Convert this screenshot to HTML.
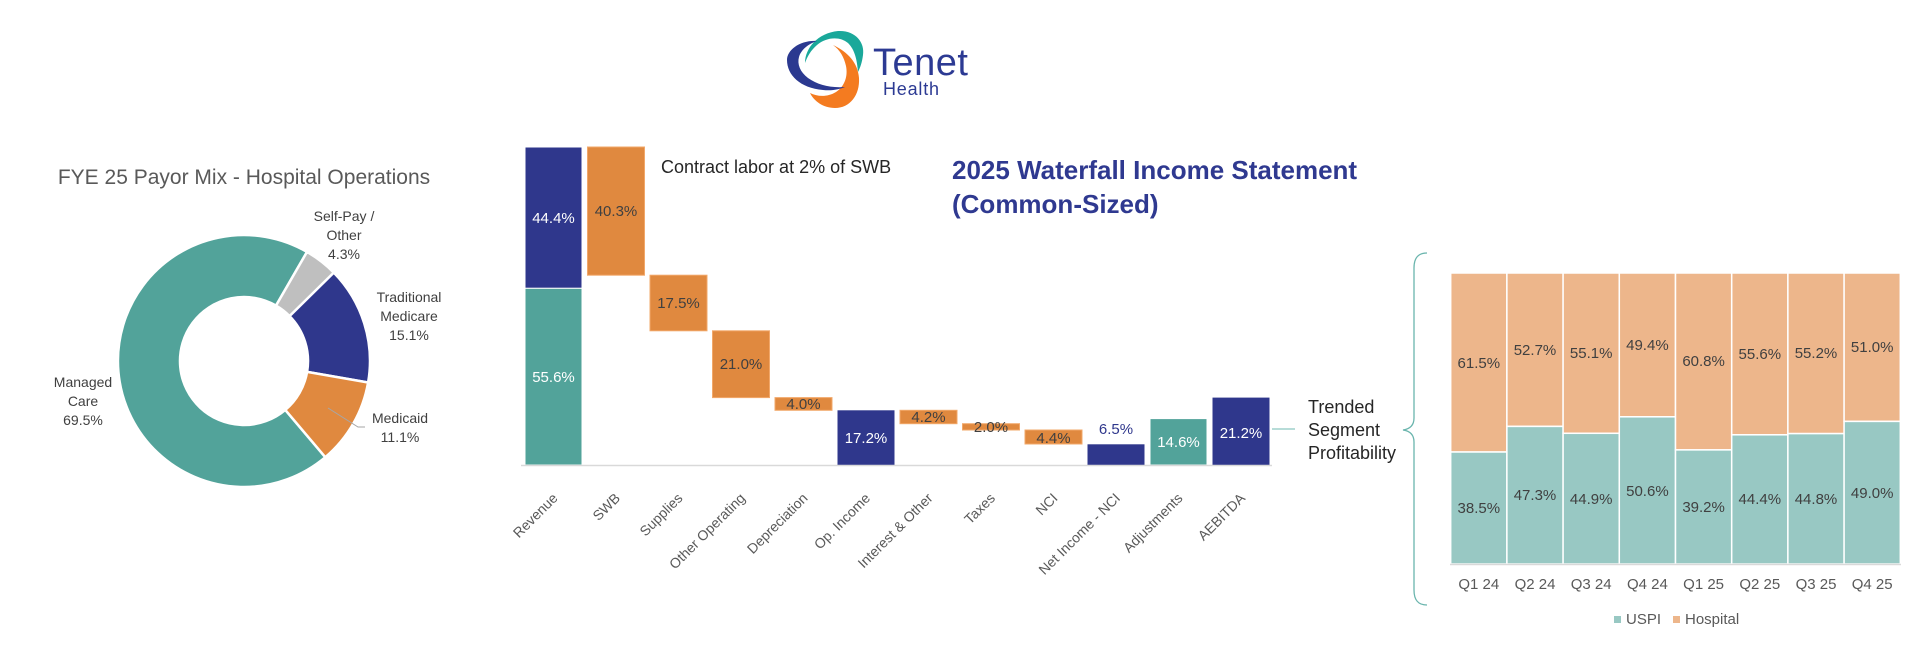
<!DOCTYPE html>
<html>
<head>
<meta charset="utf-8">
<style>
html,body{margin:0;padding:0;background:#fff;}
body{width:1920px;height:665px;overflow:hidden;}
svg{display:block;font-family:"Liberation Sans",Arial,sans-serif;}
</style>
</head>
<body>
<svg width="1920" height="665" viewBox="0 0 1920 665" xmlns="http://www.w3.org/2000/svg">
<rect width="1920" height="665" fill="#fff"/>

<!-- Logo -->
<path d="M833,45 C848,52 858,63 859,78 C860,95 850,108 835,108 C823,108 814,101 810,93 C818,97 828,97 836,92 C845,86 848,76 846,66 C844,57 840,50 833,45 Z" fill="#f47b20"/>
<path d="M805,63 C805,48 818,33 838,31 C855,30 865,42 863,55 C862,63 860,68 858,72 C857,60 855,50 848,43 C840,36 826,37 817,45 C811,50 807,57 805,63 Z" fill="#1aa89a"/>
<path d="M817,41 C800,40 787,50 787,60 C787,75 800,88 823,90 C833,91 840,89 845,87 C830,88 818,85 808,78 C800,72 797,64 799,57 C801,50 808,44 817,41 Z" fill="#2b3990"/>
<text x="873" y="75" font-size="38" fill="#2c3a93" letter-spacing="0.5">Tenet</text>
<text x="883" y="95" font-size="18" fill="#2c3a93" letter-spacing="0.8">Health</text>

<!-- Donut -->
<text x="244" y="184" font-size="21" fill="#595959" text-anchor="middle">FYE 25 Payor Mix - Hospital Operations</text>
<g stroke="#fff" stroke-width="2.5" stroke-linejoin="round">
<path d="M325.3,457.2 A126,126 0 1 1 307,251.9 L276,305.6 A64,64 0 1 0 285.3,409.9 Z" fill="#52a39a"/>
<path d="M307,251.9 A126,126 0 0 1 333.8,272.6 L289.6,316.1 A64,64 0 0 0 276,305.6 Z" fill="#bfbfbf"/>
<path d="M333.8,272.6 A126,126 0 0 1 368.1,382.5 L307.1,371.9 A64,64 0 0 0 289.6,316.1 Z" fill="#2f378c"/>
<path d="M368.1,382.5 A126,126 0 0 1 325.3,457.2 L285.3,409.9 A64,64 0 0 0 307.1,371.9 Z" fill="#e0893f"/>
</g>
<polyline points="328,408 358,427 365,427" fill="none" stroke="#a6a6a6" stroke-width="1"/>
<g font-size="14" fill="#404040" text-anchor="middle">
<text x="344" y="221">Self-Pay /</text>
<text x="344" y="240">Other</text>
<text x="344" y="259">4.3%</text>
<text x="409" y="302">Traditional</text>
<text x="409" y="321">Medicare</text>
<text x="409" y="340">15.1%</text>
<text x="83" y="387">Managed</text>
<text x="83" y="406">Care</text>
<text x="83" y="425">69.5%</text>
<text x="400" y="423">Medicaid</text>
<text x="400" y="442">11.1%</text>
</g>

<!-- Waterfall -->
<text x="661" y="173" font-size="18" fill="#262626">Contract labor at 2% of SWB</text>
<text x="952" y="179" font-size="26" font-weight="bold" fill="#2f3990">2025 Waterfall Income Statement</text>
<text x="952" y="213" font-size="26" font-weight="bold" fill="#2f3990">(Common-Sized)</text>

<g stroke="#fff" stroke-width="1">
<rect x="525" y="288.2" width="57" height="176.8" fill="#52a39a"/>
<rect x="525" y="147" width="57" height="141.2" fill="#2f378c"/>
</g>
<g fill="#e0893f" stroke="#f2a86a" stroke-width="1">
<rect x="587.5" y="147" width="57" height="128.2"/>
<rect x="650" y="275.2" width="57" height="55.6"/>
<rect x="712.5" y="330.8" width="57" height="66.8"/>
<rect x="775" y="397.6" width="57" height="12.7"/>
<rect x="900" y="410.3" width="57" height="13.4"/>
<rect x="962.5" y="423.7" width="57" height="6.3"/>
<rect x="1025" y="430" width="57" height="14"/>
</g>
<rect x="837.5" y="410.3" width="57" height="54.7" fill="#2f378c"/>
<rect x="1087.5" y="444.3" width="57" height="20.7" fill="#2f378c"/>
<rect x="1150" y="418.6" width="57" height="46.4" fill="#52a39a" stroke="#fff" stroke-width="1"/>
<rect x="1212.5" y="397.6" width="57" height="67.4" fill="#2f378c"/>
<line x1="521" y1="465.5" x2="1272" y2="465.5" stroke="#d9d9d9" stroke-width="1.5"/>
<line x1="1272" y1="429" x2="1295" y2="429" stroke="#8cc7c1" stroke-width="1.2"/>

<g font-size="15" text-anchor="middle">
<text x="553.5" y="223" fill="#fff">44.4%</text>
<text x="553.5" y="382" fill="#fff">55.6%</text>
<text x="616" y="216" fill="#404040">40.3%</text>
<text x="678.5" y="308" fill="#404040">17.5%</text>
<text x="741" y="369" fill="#404040">21.0%</text>
<text x="803.5" y="409" fill="#404040">4.0%</text>
<text x="866" y="443" fill="#fff">17.2%</text>
<text x="928.5" y="422" fill="#404040">4.2%</text>
<text x="991" y="432" fill="#404040">2.0%</text>
<text x="1053.5" y="443" fill="#404040">4.4%</text>
<text x="1116" y="434" fill="#2f378c">6.5%</text>
<text x="1178.5" y="447" fill="#fff">14.6%</text>
<text x="1241" y="438" fill="#fff">21.2%</text>
</g>

<g font-size="14" fill="#595959" text-anchor="end">
<text transform="translate(558.5,499) rotate(-45)">Revenue</text>
<text transform="translate(621,499) rotate(-45)">SWB</text>
<text transform="translate(683.5,499) rotate(-45)">Supplies</text>
<text transform="translate(746,499) rotate(-45)">Other Operating</text>
<text transform="translate(808.5,499) rotate(-45)">Depreciation</text>
<text transform="translate(871,499) rotate(-45)">Op. Income</text>
<text transform="translate(933.5,499) rotate(-45)">Interest &amp; Other</text>
<text transform="translate(996,499) rotate(-45)">Taxes</text>
<text transform="translate(1058.5,499) rotate(-45)">NCI</text>
<text transform="translate(1121,499) rotate(-45)">Net Income - NCI</text>
<text transform="translate(1183.5,499) rotate(-45)">Adjustments</text>
<text transform="translate(1246,499) rotate(-45)">AEBITDA</text>
</g>

<g font-size="18" fill="#262626">
<text x="1308" y="413">Trended</text>
<text x="1308" y="436">Segment</text>
<text x="1308" y="459">Profitability</text>
</g>

<!-- Brace -->
<path d="M1427,253 C1418,253 1414,258 1414,268 L1414,418 C1414,425 1410,429 1403,430 C1410,431 1414,435 1414,442 L1414,590 C1414,600 1418,605 1427,605" fill="none" stroke="#6ab5ad" stroke-width="1.3"/>

<!-- Stacked 100% chart -->
<g stroke="#fff" stroke-width="1.5">
<rect x="1450.7" y="273" width="56.2" height="179" fill="#edb68b"/>
<rect x="1450.7" y="452" width="56.2" height="112" fill="#98c8c3"/>
<rect x="1506.9" y="273" width="56.2" height="153.4" fill="#edb68b"/>
<rect x="1506.9" y="426.4" width="56.2" height="137.6" fill="#98c8c3"/>
<rect x="1563.1" y="273" width="56.2" height="160.3" fill="#edb68b"/>
<rect x="1563.1" y="433.3" width="56.2" height="130.7" fill="#98c8c3"/>
<rect x="1619.3" y="273" width="56.2" height="143.8" fill="#edb68b"/>
<rect x="1619.3" y="416.8" width="56.2" height="147.2" fill="#98c8c3"/>
<rect x="1675.5" y="273" width="56.2" height="176.9" fill="#edb68b"/>
<rect x="1675.5" y="449.9" width="56.2" height="114.1" fill="#98c8c3"/>
<rect x="1731.7" y="273" width="56.2" height="161.8" fill="#edb68b"/>
<rect x="1731.7" y="434.8" width="56.2" height="129.2" fill="#98c8c3"/>
<rect x="1787.9" y="273" width="56.2" height="160.6" fill="#edb68b"/>
<rect x="1787.9" y="433.6" width="56.2" height="130.4" fill="#98c8c3"/>
<rect x="1844.1" y="273" width="56.2" height="148.4" fill="#edb68b"/>
<rect x="1844.1" y="421.4" width="56.2" height="142.6" fill="#98c8c3"/>
</g>
<line x1="1450" y1="564.5" x2="1901" y2="564.5" stroke="#d9d9d9" stroke-width="1.5"/>
<g font-size="15" fill="#404040" text-anchor="middle">
<text x="1478.8" y="368">61.5%</text>
<text x="1478.8" y="513">38.5%</text>
<text x="1535" y="355">52.7%</text>
<text x="1535" y="500">47.3%</text>
<text x="1591.2" y="358">55.1%</text>
<text x="1591.2" y="504">44.9%</text>
<text x="1647.4" y="350">49.4%</text>
<text x="1647.4" y="496">50.6%</text>
<text x="1703.6" y="366">60.8%</text>
<text x="1703.6" y="512">39.2%</text>
<text x="1759.8" y="359">55.6%</text>
<text x="1759.8" y="504">44.4%</text>
<text x="1816" y="358">55.2%</text>
<text x="1816" y="504">44.8%</text>
<text x="1872.2" y="352">51.0%</text>
<text x="1872.2" y="498">49.0%</text>
</g>
<g font-size="15" fill="#595959" text-anchor="middle">
<text x="1478.8" y="589">Q1 24</text>
<text x="1535" y="589">Q2 24</text>
<text x="1591.2" y="589">Q3 24</text>
<text x="1647.4" y="589">Q4 24</text>
<text x="1703.6" y="589">Q1 25</text>
<text x="1759.8" y="589">Q2 25</text>
<text x="1816" y="589">Q3 25</text>
<text x="1872.2" y="589">Q4 25</text>
</g>
<rect x="1614" y="616" width="7" height="7" fill="#98c8c3"/>
<text x="1626" y="624" font-size="15" fill="#595959">USPI</text>
<rect x="1673" y="616" width="7" height="7" fill="#edb68b"/>
<text x="1685" y="624" font-size="15" fill="#595959">Hospital</text>
</svg>
</body>
</html>
